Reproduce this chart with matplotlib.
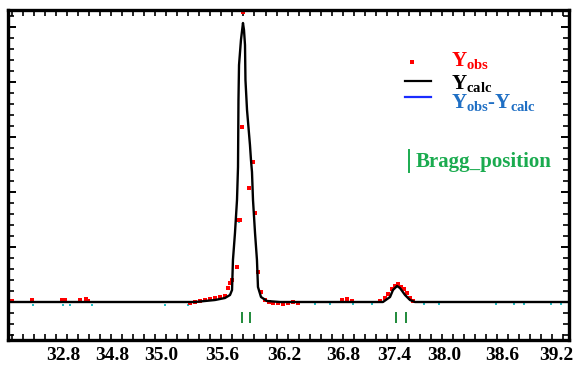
import matplotlib
matplotlib.use("Agg")
import matplotlib.pyplot as plt
from matplotlib.ticker import MultipleLocator, FixedLocator

plt.rcParams["font.family"] = ["Liberation Serif", "DejaVu Serif"]
plt.rcParams["font.weight"] = "bold"
plt.rcParams["mathtext.fontset"] = "custom"
plt.rcParams["mathtext.rm"] = "Liberation Serif:bold"
plt.rcParams["mathtext.it"] = "Liberation Serif:bold"
plt.rcParams["mathtext.bf"] = "Liberation Serif:bold"

# calculated profile (2theta, intensity)
calc_x = [33.200, 34.744, 35.233, 35.451, 35.559, 35.614, 35.636, 35.646, 35.668,
          35.690, 35.701, 35.706, 35.712, 35.733, 35.755, 35.766, 35.777,
          35.782, 35.799, 35.831, 35.842, 35.853, 35.864, 35.886, 35.907, 35.918,
          35.951, 36.016, 36.157, 37.136, 37.277, 37.354, 37.386, 37.430, 37.462,
          37.517, 37.571, 37.625, 39.300]
calc_y = [0, 0, 0, 20, 40, 70, 120, 420, 690,
          1020, 1350, 2020, 2370, 2620, 2790, 2720, 2570,
          2220, 1920, 1570, 1420, 1300, 1020, 690, 420, 150,
          50, 10, 0, 0, 0, 50, 120, 160, 140,
          70, 20, 0, 0]

# observed points
obs_x = [33.243, 33.461, 33.787, 33.820, 33.983, 34.049, 34.070, 35.179, 35.233,
         35.288, 35.342, 35.396, 35.451, 35.505, 35.559, 35.592, 35.614, 35.636,
         35.690, 35.701, 35.723, 35.739, 35.755, 35.820, 35.864, 35.886, 35.918,
         35.951, 35.994, 36.037, 36.081, 36.135, 36.190, 36.244, 36.298, 36.353,
         36.827, 36.882, 36.936, 37.245, 37.299, 37.332, 37.375, 37.408, 37.441,
         37.473, 37.506, 37.538, 37.571, 37.604]
obs_y = [10, 20, 20, 20, 20, 30, 10, -10, 0,
         10, 20, 30, 40, 50, 60, 140, 190, 220,
         350, 820, 820, 1750, 2900, 1140, 1400, 890, 300,
         100, 20, 0, -10, -10, -20, -10, 0, -10,
         20, 30, 10, 10, 40, 80, 130, 160, 180,
         150, 130, 90, 40, 10]

# difference points visible on the baseline
diff_x = [33.222, 33.472, 33.798, 33.874, 34.114, 34.907, 35.157, 35.712,
          36.533, 36.696, 36.946, 37.153, 37.722, 37.885, 38.505, 38.701,
          38.810, 39.104, 39.213]
diff_y = [10, -30, -30, -30, -30, -30, -30, 800,
          -20, -20, -20, -20, -20, -20, -20, -20,
          -20, -20, -20]

bragg_x = [35.744, 35.831, 37.419, 37.528]

tick_pos = [33.80, 34.33, 34.87, 35.53, 36.20, 36.85, 37.40, 37.94, 38.57, 39.16]
tick_labels = ["32.8", "34.8", "35.0", "35.6", "36.2", "36.8", "37.4", "38.0", "38.6", "39.2"]

fig = plt.figure(figsize=(5.74, 3.66), dpi=100)
ax = fig.add_axes([8 / 574, 26 / 366, 561 / 574, 330 / 366])

ax.plot(diff_x, diff_y, "s", color="#22c0c8", ms=1.8, mew=0, zorder=1)
ax.plot(obs_x, obs_y, "s", color="red", ms=2.4, mew=0, zorder=2)
ax.plot(calc_x, calc_y, color="black", lw=1.7, zorder=3)
ax.vlines(bragg_x, -100, -210, color="#1f8a3a", lw=1.4)

ax.set_xlim(33.2, 39.3)
ax.set_ylim(-380, 2920)

ax.xaxis.set_major_locator(FixedLocator(tick_pos))
ax.set_xticklabels(tick_labels, fontsize=14, fontweight="bold")
ax.xaxis.set_minor_locator(MultipleLocator(0.12))
ax.yaxis.set_major_locator(MultipleLocator(550))
ax.yaxis.set_minor_locator(MultipleLocator(110))
ax.tick_params(which="major", axis="x", length=0, pad=5)
ax.tick_params(which="minor", direction="in", length=4, width=1.2,
               top=True, bottom=True, left=True, right=True)
ax.tick_params(which="major", axis="y", direction="in", length=6, width=1.4,
               left=True, right=True, labelleft=False)
for s in ax.spines.values():
    s.set_linewidth(2.4)


def fx(px):
    return px / 574


def fy(py):
    return 1 - py / 366


# legend drawn by hand
fig.add_artist(plt.Line2D([fx(412)], [fy(62)], marker="s", color="red", ms=2.6, mew=0))
fig.add_artist(plt.Line2D([fx(405), fx(431)], [fy(81), fy(81)], color="black", lw=1.6))
fig.add_artist(plt.Line2D([fx(405), fx(431)], [fy(97), fy(97)], color="#1a2cff", lw=1.6))
fig.add_artist(plt.Line2D([fx(409), fx(409)], [fy(150), fy(172)], color="#1aab4f", lw=1.4))
fig.text(fx(451), fy(66), r"$\mathrm{Y_{obs}}$", color="red", fontsize=15, va="baseline")
fig.text(fx(451), fy(89), r"$\mathrm{Y_{calc}}$", color="black", fontsize=15, va="baseline")
fig.text(fx(451), fy(108), r"$\mathrm{Y_{obs}}$-$\mathrm{Y_{calc}}$", color="#1f6fc4",
         fontsize=15, va="baseline")
fig.text(fx(416), fy(167), "Bragg_position", color="#1aab4f", fontsize=15,
         fontweight="bold", va="baseline")

fig.savefig("out.png", dpi=100)
